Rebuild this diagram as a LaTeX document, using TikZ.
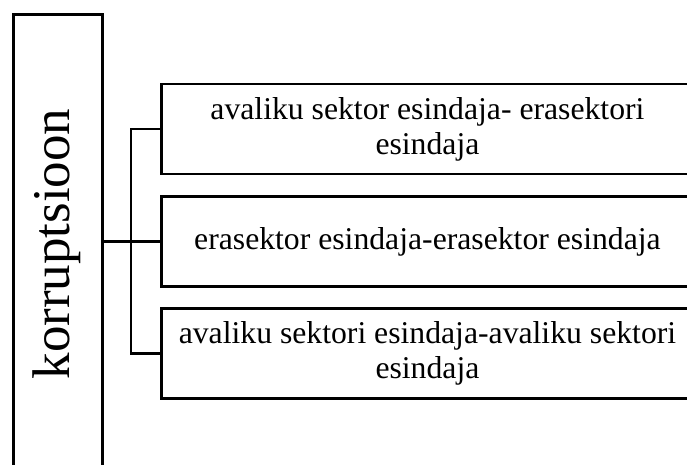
\documentclass[tikz,border=0pt]{standalone}
\usepackage{fontspec}
\setmainfont{Liberation Serif}
\begin{document}
\begin{tikzpicture}[x=1bp,y=-1bp,
  frame/.style={draw=black,line width=2.9bp,rectangle,inner sep=0pt},
  itembox/.style={frame,minimum width=532bp,minimum height=90bp,anchor=west,align=center,
    font=\fontsize{31.7bp}{35bp}\selectfont},
  link/.style={draw=black,line width=2.7bp}]
\useasboundingbox (0,0) rectangle (687,465);
\clip (0,0) rectangle (687,465);
\node[frame,minimum width=89bp,minimum height=470bp,anchor=north west] (k) at (12,13) {};
\node[rotate=90,font=\fontsize{53bp}{60bp}\selectfont,inner sep=0pt] (kl) at (57,244) {korruptsioon};
\node[itembox] (b1) at (160,129) {avaliku sektor esindaja- erasektori\\esindaja};
\node[itembox] (b2) at (160,241.5) {erasektor esindaja-erasektor esindaja};
\node[itembox] (b3) at (160,353.5) {avaliku sektori esindaja-avaliku sektori\\esindaja};
\coordinate (bus) at (131,0);
\draw[link] (b1.west) -| (bus |- b3.west) -- (b3.west);
\draw[link] (k.east |- b2.west) -- (b2.west);
\end{tikzpicture}
\end{document}
